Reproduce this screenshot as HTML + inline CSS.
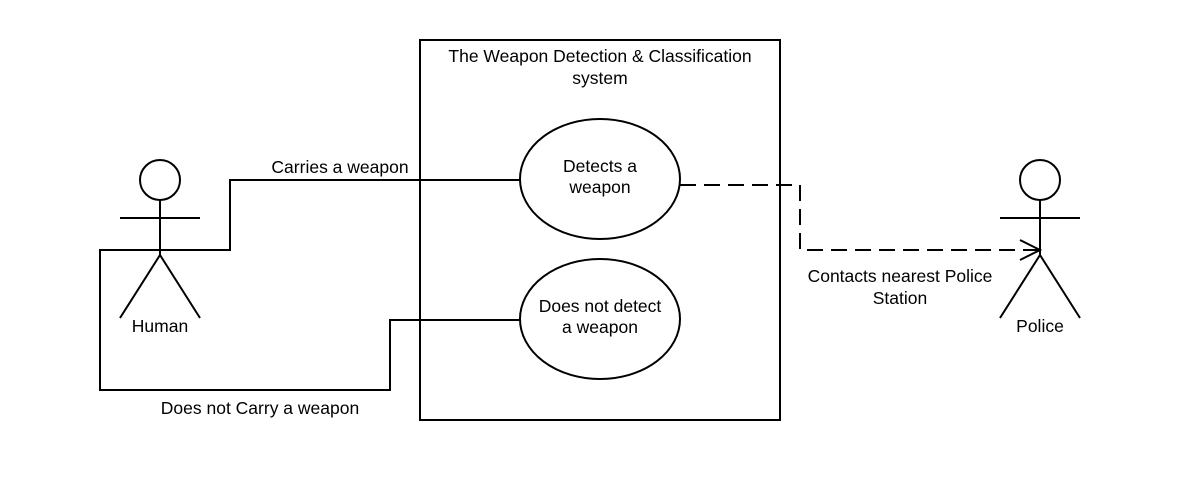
<!DOCTYPE html>
<html><head><style>body{margin:0;background:#fff}svg{display:block}text{font-family:"Liberation Sans",sans-serif;font-size:17.5px;fill:#000}</style></head>
<body>
<svg width="1200" height="480" viewBox="0 0 1200 480" xmlns="http://www.w3.org/2000/svg">
<rect width="1200" height="480" fill="#fff"/>
<g stroke="#000" stroke-width="2" fill="none">
<rect x="420" y="40" width="360" height="380"/>
<ellipse cx="600" cy="179" rx="80" ry="60" fill="#fff"/>
<ellipse cx="600" cy="319" rx="80" ry="60" fill="#fff"/>
<circle cx="160" cy="180" r="20"/>
<line x1="160" y1="200" x2="160" y2="255"/>
<line x1="120" y1="218" x2="200" y2="218"/>
<polyline points="120,318 160,255 200,318"/>
<circle cx="1040" cy="180" r="20"/>
<line x1="1040" y1="200" x2="1040" y2="255"/>
<line x1="1000" y1="218" x2="1080" y2="218"/>
<polyline points="1000,318 1040,255 1080,318"/>
<polyline points="160,250 230,250 230,180 520,180"/>
<polyline points="160,250 100,250 100,390 390,390 390,320 520,320"/>
<polyline points="680,185 800,185 800,250 1038,250" stroke-dasharray="16,8"/>
<polyline points="1020,240 1040,250 1020,260"/>
</g>
<text x="600" y="172" text-anchor="middle">Detects a</text>
<text x="600" y="193" text-anchor="middle">weapon</text>
<text x="600" y="312" text-anchor="middle">Does not detect</text>
<text x="600" y="333" text-anchor="middle">a weapon</text>
<text x="600" y="62" text-anchor="middle">The Weapon Detection &amp; Classification</text>
<text x="600" y="84" text-anchor="middle">system</text>
<text x="340" y="173" text-anchor="middle">Carries a weapon</text>
<text x="260" y="414" text-anchor="middle">Does not Carry a weapon</text>
<text x="900" y="282" text-anchor="middle">Contacts nearest Police</text>
<text x="900" y="304" text-anchor="middle">Station</text>
<text x="160" y="332" text-anchor="middle">Human</text>
<text x="1040" y="332" text-anchor="middle">Police</text>
</svg>
</body></html>
